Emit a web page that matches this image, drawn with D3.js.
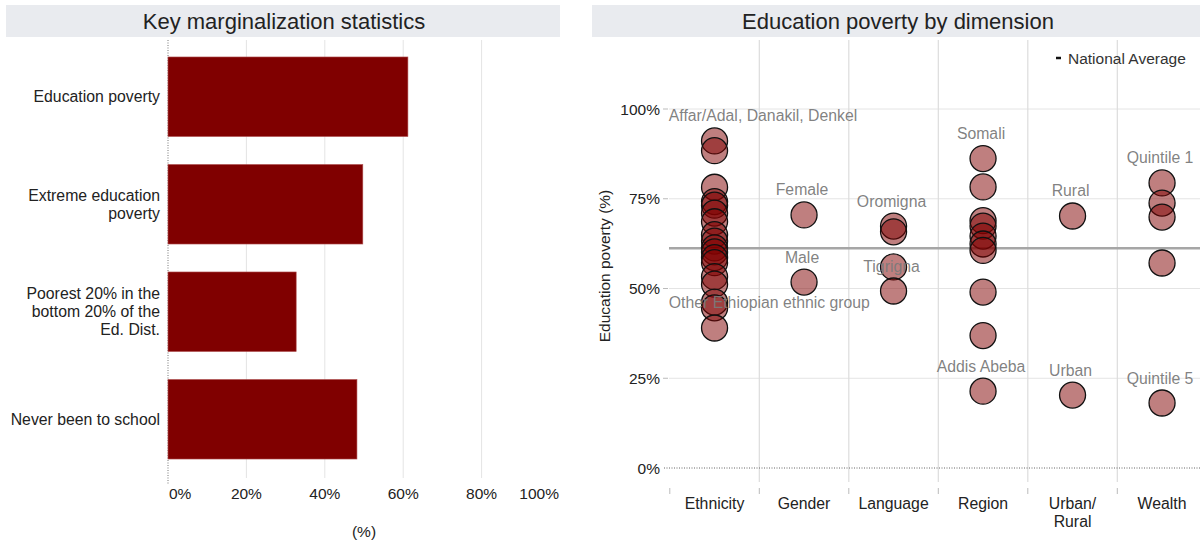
<!DOCTYPE html>
<html>
<head>
<meta charset="utf-8">
<script src="https://cdn.jsdelivr.net/npm/d3@7/dist/d3.min.js"></script>
<style>
  html, body { margin: 0; padding: 0; background: #fff; }
  svg { display: block; font-family: "Liberation Sans", Arial, sans-serif; }
</style>
</head>
<body>
<svg id="chart" width="1200" height="542"></svg>
<script>
// ---------- DATA ----------
const barCategories = ["Education poverty", "Extreme education poverty", "Poorest 20% in the bottom 20% of the Ed. Dist.", "Never been to school"];
const barLabelLines = [["Education poverty"], ["Extreme education", "poverty"], ["Poorest 20% in the", "bottom 20% of the", "Ed. Dist."], ["Never been to school"]];
const barValues = [61.2, 49.7, 32.7, 48.2];
const barTicks = [0, 20, 40, 60, 80, 100];

const dimensions = ["Ethnicity", "Gender", "Language", "Region", "Urban/ Rural", "Wealth"];
const dimensionLabelLines = [["Ethnicity"], ["Gender"], ["Language"], ["Region"], ["Urban/", "Rural"], ["Wealth"]];
const ethnicityValues = [91.1, 88.4, 78.2, 74.2, 73.2, 71.0, 68.6, 65.0, 63.2, 61.3, 60.2, 58.6, 57.2, 53.3, 51.2, 46.2, 44.6, 39.0];
const genderValues = [70.5, 51.8];
const languageValues = [67.4, 65.8, 56.0, 49.3];
const regionValues = [86.2, 78.3, 68.9, 67.4, 64.6, 62.4, 60.6, 49.0, 36.9, 21.4];
const urbanRuralValues = [70.2, 20.3];
const wealthValues = [79.4, 73.8, 69.9, 57.1, 18.1];
const maxLabels = ["Affar/Adal, Danakil, Denkel", "Female", "Oromigna", "Somali", "Rural", "Quintile 1"];
const minLabels = ["Other Ethiopian ethnic group", "Male", "Tigrigna", "Addis Abeba", "Urban", "Quintile 5"];
const nationalAverage = 61.2;
const yTicks = [0, 25, 50, 75, 100];

// ---------- SETUP ----------
const svg = d3.select("#chart");
const maroon = "#800000";
const gridColor = "#e4e4e4";
const titleBg = "#e9ebef";
const fs = 15.8;

// ===== LEFT PANEL =====
const left = svg.append("g");
left.append("rect").attr("x", 6).attr("y", 5).attr("width", 554).attr("height", 32).attr("fill", titleBg);
left.append("text").attr("x", 284).attr("y", 29).attr("text-anchor", "middle")
  .attr("font-size", 22).attr("fill", "#222").text("Key marginalization statistics");

const xBar = d3.scaleLinear().domain([0, 100]).range([168, 560]);
const yBar = d3.scaleBand().domain(barCategories).range([43, 473]).paddingInner(0.26).paddingOuter(0.13);

// gridlines
left.append("g").selectAll("line").data(barTicks.filter(t => t > 0 && t < 100)).join("line")
  .attr("x1", d => xBar(d)).attr("x2", d => xBar(d)).attr("y1", 40).attr("y2", 478)
  .attr("stroke", gridColor).attr("stroke-width", 1);
// zero line dotted
left.append("line").attr("x1", xBar(0)).attr("x2", xBar(0)).attr("y1", 40).attr("y2", 484)
  .attr("stroke", "#777").attr("stroke-width", 1).attr("stroke-dasharray", "1,1.5");

// bars
left.append("g").selectAll("rect").data(barCategories).join("rect")
  .attr("x", xBar(0)).attr("y", d => yBar(d))
  .attr("width", (d, i) => xBar(barValues[i]) - xBar(0))
  .attr("height", yBar.bandwidth())
  .attr("fill", maroon).attr("stroke", "#b05050").attr("stroke-width", 0.6);

// category labels
const catG = left.append("g");
barCategories.forEach((c, i) => {
  const lines = barLabelLines[i];
  const cy = yBar(c) + yBar.bandwidth() / 2;
  const lh = 18;
  const t = catG.append("text").attr("text-anchor", "end").attr("font-size", fs).attr("fill", "#222");
  lines.forEach((ln, j) => {
    t.append("tspan").attr("x", 160).attr("y", cy + (j - (lines.length - 1) / 2) * lh + 5.5).text(ln);
  });
});

// x tick labels
left.append("g").selectAll("text").data(barTicks).join("text")
  .attr("x", d => d === 0 ? xBar(d) + 1 : (d === 100 ? xBar(d) - 1 : xBar(d)))
  .attr("y", 499)
  .attr("text-anchor", d => d === 0 ? "start" : (d === 100 ? "end" : "middle"))
  .attr("font-size", 15.5).attr("fill", "#222")
  .text(d => d + "%");
left.append("text").attr("x", 364).attr("y", 537).attr("text-anchor", "middle")
  .attr("font-size", 15.5).attr("fill", "#222").text("(%)");

// ===== RIGHT PANEL =====
const right = svg.append("g");
right.append("rect").attr("x", 592).attr("y", 5).attr("width", 608).attr("height", 32).attr("fill", titleBg);
right.append("text").attr("x", 898).attr("y", 29).attr("text-anchor", "middle")
  .attr("font-size", 22).attr("fill", "#222").text("Education poverty by dimension");

const xDim = d3.scaleBand().domain(dimensions).range([669.8, 1206.8]).padding(0);
const yDim = d3.scaleLinear().domain([0, 100]).range([468, 109]);

// horizontal gridlines
right.append("g").selectAll("line").data(yTicks.filter(t => t > 0)).join("line")
  .attr("x1", 669).attr("x2", 1200).attr("y1", d => yDim(d)).attr("y2", d => yDim(d))
  .attr("stroke", gridColor).attr("stroke-width", 1);
// vertical gridlines at band boundaries (skip first)
right.append("g").selectAll("line").data(dimensions.slice(1)).join("line")
  .attr("x1", d => xDim(d)).attr("x2", d => xDim(d)).attr("y1", 40).attr("y2", 482)
  .attr("stroke", "#dcdcdc").attr("stroke-width", 1.2);
// bottom ticks at band boundaries
right.append("g").selectAll("line").data(dimensions).join("line")
  .attr("x1", d => xDim(d)).attr("x2", d => xDim(d)).attr("y1", 488).attr("y2", 494)
  .attr("stroke", "#bbb").attr("stroke-width", 1);
// zero line dotted
right.append("line").attr("x1", 664).attr("x2", 1200).attr("y1", yDim(0)).attr("y2", yDim(0))
  .attr("stroke", "#666").attr("stroke-width", 1).attr("stroke-dasharray", "1,1.5");
// y ticks + labels
right.append("g").selectAll("line").data(yTicks.filter(t => t > 0)).join("line")
  .attr("x1", 663).attr("x2", 668).attr("y1", d => yDim(d)).attr("y2", d => yDim(d))
  .attr("stroke", "#bbb").attr("stroke-width", 1);
right.append("g").selectAll("text").data(yTicks).join("text")
  .attr("x", 660).attr("y", d => yDim(d) + 5.5).attr("text-anchor", "end")
  .attr("font-size", 15.5).attr("fill", "#222").text(d => d + "%");
// y axis title
right.append("text").attr("transform", "translate(610,266) rotate(-90)")
  .attr("text-anchor", "middle").attr("font-size", 15.5).attr("fill", "#222")
  .text("Education poverty (%)");

// x category labels
dimensions.forEach((d, i) => {
  const lines = dimensionLabelLines[i];
  const t = right.append("text").attr("text-anchor", "middle").attr("font-size", fs).attr("fill", "#222");
  lines.forEach((ln, j) => {
    t.append("tspan").attr("x", xDim(d) + xDim.bandwidth() / 2).attr("y", 509 + j * 18).text(ln);
  });
});

// national average line
right.append("line").attr("x1", 669).attr("x2", 1200)
  .attr("y1", yDim(nationalAverage)).attr("y2", yDim(nationalAverage))
  .attr("stroke", "#a6a6a6").attr("stroke-width", 2.5);

// points
const groups = [ethnicityValues, genderValues, languageValues, regionValues, urbanRuralValues, wealthValues];
const points = [];
groups.forEach((vals, gi) => vals.forEach(v => points.push({ dim: dimensions[gi], value: v })));
right.append("g").selectAll("circle").data(points).join("circle")
  .attr("cx", d => xDim(d.dim) + xDim.bandwidth() / 2)
  .attr("cy", d => yDim(d.value))
  .attr("r", 13)
  .attr("fill", maroon).attr("fill-opacity", 0.5)
  .attr("stroke", "#111").attr("stroke-width", 1.3);

// labels for max/min per dimension
const labelData = [];
groups.forEach((vals, gi) => {
  labelData.push({ dim: dimensions[gi], value: d3.max(vals), text: maxLabels[gi], gi });
  labelData.push({ dim: dimensions[gi], value: d3.min(vals), text: minLabels[gi], gi });
});
right.append("g").selectAll("text").data(labelData).join("text")
  .attr("x", d => d.gi === 0 ? xDim(d.dim) - 1 : xDim(d.dim) + xDim.bandwidth() / 2 - 2)
  .attr("y", d => yDim(d.value) - 19.5)
  .attr("text-anchor", d => d.gi === 0 ? "start" : "middle")
  .attr("font-size", fs).attr("fill", "#7a7a7a").attr("fill-opacity", 0.95)
  .text(d => d.text);

// legend
right.append("line").attr("x1", 1056).attr("x2", 1061).attr("y1", 58).attr("y2", 58)
  .attr("stroke", "#111").attr("stroke-width", 2.5);
right.append("text").attr("x", 1068).attr("y", 63.5).attr("font-size", 15.5).attr("fill", "#333")
  .text("National Average");
</script>
</body>
</html>
